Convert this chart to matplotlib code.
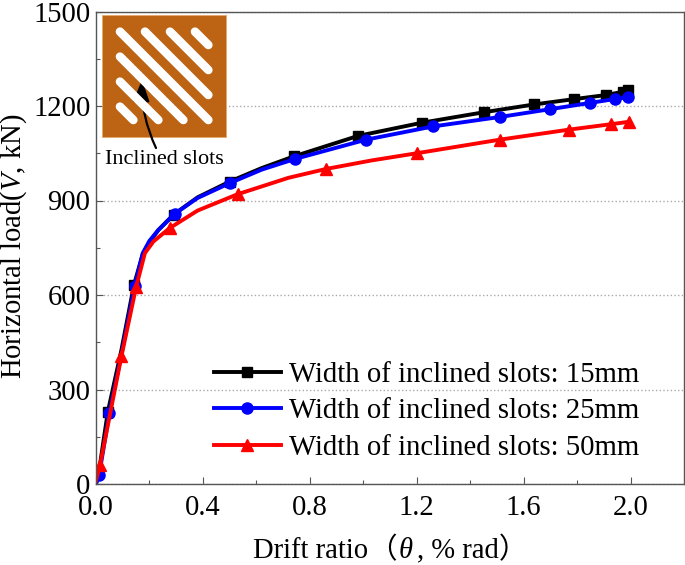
"""Horizontal load vs drift ratio for three inclined slot widths, with slot sketch inset."""
import matplotlib
matplotlib.use("Agg")
import matplotlib.pyplot as plt
from matplotlib.patches import FancyArrowPatch, Rectangle

plt.rcParams.update({
    "font.family": ["Liberation Serif", "Noto Sans CJK SC"],
    "font.size": 20.6,
    "mathtext.fontset": "custom",
    "mathtext.rm": "Liberation Serif",
    "mathtext.it": "Liberation Serif:italic",
    "axes.linewidth": 1.0,
    "axes.edgecolor": "#555555",
})

# curve points, markers only at *_MARK indices
X_15 = [0.0, 0.012, 0.044, 0.095, 0.142, 0.175, 0.20, 0.233, 0.29, 0.38, 0.50, 0.62, 0.74, 0.98, 1.22, 1.45, 1.64, 1.79, 1.91, 1.97, 1.99]
Y_15 = [0, 45, 228, 425, 632, 730, 768, 806, 855, 910, 960, 1003, 1040, 1105, 1147, 1180, 1205, 1222, 1235, 1245, 1250]
MARK_15 = [2, 4, 8, 10, 12, 13, 14, 15, 16, 17, 18, 19, 20]

X_25 = [0.0, 0.012, 0.05, 0.095, 0.145, 0.175, 0.20, 0.233, 0.295, 0.38, 0.50, 0.62, 0.745, 1.01, 1.26, 1.51, 1.70, 1.85, 1.94, 1.99]
Y_25 = [0, 30, 225, 410, 630, 733, 772, 806, 858, 908, 955, 998, 1032, 1093, 1135, 1165, 1190, 1210, 1222, 1228]
MARK_25 = [1, 2, 4, 8, 10, 12, 13, 14, 15, 16, 17, 18, 19]

X_50 = [0.0, 0.015, 0.095, 0.15, 0.183, 0.215, 0.275, 0.38, 0.53, 0.72, 0.86, 1.03, 1.20, 1.51, 1.77, 1.925, 1.995]
Y_50 = [10, 60, 405, 625, 733, 770, 812, 868, 920, 972, 1000, 1027, 1050, 1093, 1125, 1142, 1150]
MARK_50 = [1, 2, 3, 6, 8, 10, 12, 13, 14, 15, 16]

LABELS = ["Width of inclined slots: 15mm", "Width of inclined slots: 25mm",
          "Width of inclined slots: 50mm"]
X_TICKS = [0.0, 0.4, 0.8, 1.2, 1.6, 2.0]
Y_TICKS = [0, 300, 600, 900, 1200, 1500]

W, H = 685, 565
fig = plt.figure(figsize=(W / 100, H / 100), dpi=100)
ax = fig.add_axes([96 / W, 1 - 484 / H, (684 - 96) / W, (484 - 11.5) / H])

ax.plot(X_15, Y_15, color="black", lw=2.8, marker="s", ms=7.5, markevery=MARK_15, label=LABELS[0])
ax.plot(X_25, Y_25, color="#0000ff", lw=2.8, marker="o", ms=8, markevery=MARK_25, label=LABELS[1])
ax.plot(X_50, Y_50, color="#ff0000", lw=2.8, marker="^", ms=8.5, markevery=MARK_50, label=LABELS[2])

ax.set_xlim(0, 2.2)
ax.set_ylim(0, 1500)
ax.set_xticks(X_TICKS)
ax.set_xticks([0.2, 0.6, 1.0, 1.4, 1.8], minor=True)
ax.set_yticks(Y_TICKS)
ax.set_yticks([150, 450, 750, 1050, 1350], minor=True)
ax.tick_params(which="major", direction="in", length=5, width=0.8, color="#555555")
ax.tick_params(which="minor", direction="in", length=3, width=0.8, color="#555555")
ax.tick_params(axis="x", which="major", pad=8)
ax.tick_params(axis="y", which="major", pad=4)
ax.grid(axis="y", which="major", linestyle=":", color="#aaaaaa", linewidth=1.0)
ax.set_axisbelow(True)

ax.legend(loc="lower left", bbox_to_anchor=(118 / 588, 0.049), frameon=False, fontsize=20.7,
          handlelength=2.33, handletextpad=0.28, labelspacing=0.36, borderpad=0, borderaxespad=0)

# overlay in pixel coordinates for the axis labels and the slot sketch
ov = fig.add_axes([0, 0, 1, 1], facecolor="none")
ov.set_xlim(0, W)
ov.set_ylim(H, 0)
ov.axis("off")

ov.text(14, 246, "Horizontal load($\\mathit{V}$, kN)", fontsize=20.6, rotation=90,
        ha="center", va="center")
ov.text(253, 558, "Drift ratio", fontsize=20.6, va="baseline")
ov.text(368, 558, "（", fontsize=20.6, va="baseline")
ov.text(399, 558, "θ", fontsize=20.6, va="baseline", style="italic")
ov.text(417, 558, ", % rad）", fontsize=20.6, va="baseline")

ov.add_patch(Rectangle((102, 14.5), 124, 122, facecolor="#bd6414", edgecolor="#e8a868", lw=0.6))
SLOTS = [((90, 95), (355, 360)), ((90, 170), (280, 360)), ((90, 245), (205, 360)),
         ((90, 320), (130, 360)), ((165, 95), (355, 285)), ((240, 95), (355, 210)),
         ((315, 95), (355, 135))]
for (x0, y0), (x1, y1) in SLOTS:
    ov.plot([90 + x0 / 3, 90 + x1 / 3], [y0 / 3, y1 / 3], color="white", lw=6.2,
            solid_capstyle="round")
ov.add_patch(FancyArrowPatch((156, 148), (142, 80), connectionstyle="arc3,rad=-0.12",
                             arrowstyle="-|>,head_length=0.65,head_width=0.25", mutation_scale=20,
                             color="black", lw=1.6, shrinkA=0, shrinkB=0))
ov.text(164.5, 160, "Inclined slots", fontsize=16, ha="center", va="center")

fig.savefig("out.png", dpi=100)
